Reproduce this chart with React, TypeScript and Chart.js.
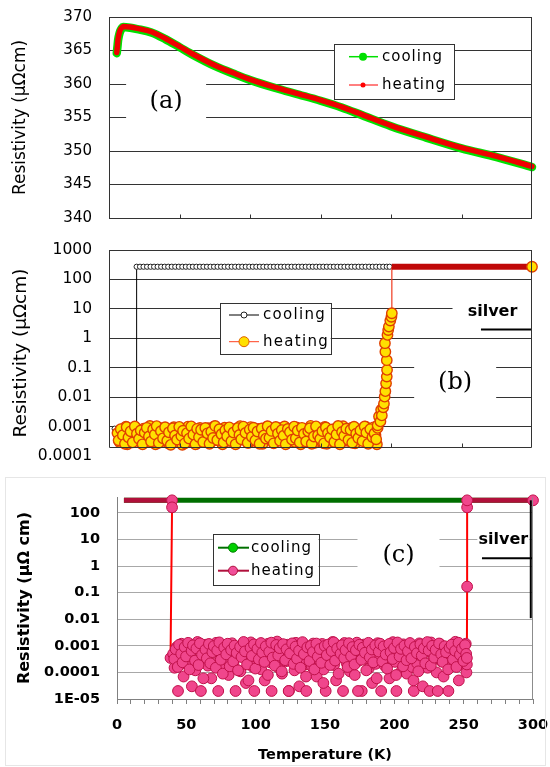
import React, { useEffect, useRef } from "react";
import { Chart, registerables } from "chart.js";

Chart.register(...registerables);

const SANS = "'DejaVu Sans', sans-serif";
const SERIF = "'DejaVu Serif', serif";

// ---------------- Panel (a) ----------------
const tempA = [5.5, 6, 6.5, 7.5, 9, 10, 15, 20, 30, 40, 50, 60, 75, 90, 100, 118, 135, 150, 165, 180, 200, 225, 250, 275, 300];
const heatingA = [364.7, 365.8, 366.8, 367.8, 368.4, 368.6, 368.5, 368.3, 367.8, 366.8, 365.6, 364.4, 362.8, 361.5, 360.7, 359.5, 358.5, 357.6, 356.6, 355.4, 353.8, 352.1, 350.5, 349.2, 347.7];
const coolingA = [364.6, 365.6, 366.6, 367.6, 368.3, 368.5, 368.4, 368.2, 367.7, 366.7, 365.5, 364.3, 362.7, 361.4, 360.6, 359.4, 358.4, 357.5, 356.5, 355.3, 353.7, 352.0, 350.4, 349.1, 347.6];
const yTicksA = [340, 345, 350, 355, 360, 365, 370];
const xInnerTicks = [50, 100, 150, 200, 250];

// ---------------- Panel (b) ----------------
const yTicksB = [0.0001, 0.001, 0.01, 0.1, 1, 10, 100, 1000];
const yLabelsB = ["0.0001", "0.001", "0.01", "0.1", "1", "10", "100", "1000"];
const axisFloorB = 0.0002;

const coolingB_lowT = [4, 7, 10, 13, 16, 19.6];
const coolingB_lowV = [8.5e-4, 9e-4, 8.5e-4, 9e-4, 8.5e-4, 9e-4];
const coolingB_highT = [
  19.6, 22, 24.5, 27, 29.5, 32, 34.5, 37, 39.5, 42,
  44.5, 47, 49.5, 52, 54.5, 57, 59.5, 62, 64.5, 67,
  69.5, 72, 74.5, 77, 79.5, 82, 84.5, 87, 89.5, 92,
  94.5, 97, 99.5, 102, 104.5, 107, 109.5, 112, 114.5, 117,
  119.5, 122, 124.5, 127, 129.5, 132, 134.5, 137, 139.5, 142,
  144.5, 147, 149.5, 152, 154.5, 157, 159.5, 162, 164.5, 167,
  169.5, 172, 174.5, 177, 179.5, 182, 184.5, 187, 189.5, 192,
  194.5, 197, 199,
];
const coolingB_highV = [
  270, 270, 270, 270, 270, 270, 270, 270, 270, 270,
  270, 270, 270, 270, 270, 270, 270, 270, 270, 270,
  270, 270, 270, 270, 270, 270, 270, 270, 270, 270,
  270, 270, 270, 270, 270, 270, 270, 270, 270, 270,
  270, 270, 270, 270, 270, 270, 270, 270, 270, 270,
  270, 270, 270, 270, 270, 270, 270, 270, 270, 270,
  270, 270, 270, 270, 270, 270, 270, 270, 270, 270,
  270, 270, 270,
];

const heatingB_cloudT = [
  6, 7.5, 9, 10.5, 12, 13, 14.5, 16, 17.5, 19,
  20.5, 22, 23, 24.5, 26, 27.5, 29, 30.5, 32, 33,
  34.5, 36, 37.5, 39, 40.5, 42, 43, 44.5, 46, 47.5,
  49, 50.5, 52, 53, 54.5, 56, 57.5, 59, 60.5, 62,
  63, 64.5, 66, 67.5, 69, 70.5, 72, 73, 74.5, 76,
  77.5, 79, 80.5, 82, 83, 84.5, 86, 87.5, 89, 90.5,
  92, 93, 94.5, 96, 97.5, 99, 100.5, 102, 103, 104.5,
  106, 107.5, 109, 110.5, 112, 113, 114.5, 116, 117.5, 119,
  120.5, 122, 123, 124.5, 126, 127.5, 129, 130.5, 132, 133,
  134.5, 136, 137.5, 139, 140.5, 142, 143, 144.5, 146, 147.5,
  149, 150.5, 152, 153, 154.5, 156, 157.5, 159, 160.5, 162,
  163, 164.5, 166, 167.5, 169, 170.5, 172, 173, 174.5, 176,
  177.5, 179, 180.5, 182, 183, 184.5, 186, 187.5, 189, 190,
];
const heatingB_cloudV = [
  6.0e-4, 3.0e-4, 8.0e-4, 4.5e-4, 10.0e-4, 2.5e-4, 7.0e-4, 5.0e-4, 3.5e-4, 9.0e-4,
  4.0e-4, 6.5e-4, 2.8e-4, 8.5e-4, 5.5e-4, 3.0e-4, 10.5e-4, 4.0e-4, 7.5e-4, 2.5e-4,
  6.0e-4, 9.0e-4, 3.5e-4, 5.0e-4, 8.0e-4, 2.7e-4, 6.5e-4, 4.0e-4, 9.5e-4, 3.0e-4,
  7.0e-4, 5.5e-4, 2.4e-4, 8.0e-4, 4.5e-4, 10.0e-4, 3.2e-4, 6.0e-4, 7.5e-4, 2.6e-4,
  5.0e-4, 9.0e-4, 3.8e-4, 6.8e-4, 4.2e-4, 8.8e-4, 2.9e-4, 5.8e-4, 10.2e-4, 3.5e-4,
  7.2e-4, 4.8e-4, 2.5e-4, 9.2e-4, 5.2e-4, 3.3e-4, 7.8e-4, 6.2e-4, 2.7e-4, 8.6e-4,
  4.4e-4, 10.4e-4, 3.6e-4, 6.6e-4, 5.4e-4, 2.8e-4, 9.6e-4, 4.1e-4, 7.1e-4, 3.1e-4,
  8.3e-4, 5.7e-4, 2.6e-4, 6.9e-4, 9.9e-4, 3.9e-4, 5.1e-4, 7.6e-4, 2.9e-4, 4.7e-4,
  8.9e-4, 3.4e-4, 6.3e-4, 10.1e-4, 2.7e-4, 5.6e-4, 7.9e-4, 4.3e-4, 3.0e-4, 9.3e-4,
  6.1e-4, 2.5e-4, 8.2e-4, 4.9e-4, 7.3e-4, 3.7e-4, 10.6e-4, 5.3e-4, 2.8e-4, 6.7e-4,
  8.7e-4, 3.2e-4, 4.6e-4, 9.7e-4, 2.6e-4, 7.4e-4, 5.9e-4, 3.5e-4, 8.4e-4, 4.1e-4,
  6.4e-4, 2.9e-4, 10.3e-4, 5.0e-4, 3.3e-4, 7.7e-4, 9.1e-4, 4.5e-4, 2.7e-4, 6.0e-4,
  8.0e-4, 3.6e-4, 5.5e-4, 10.0e-4, 4.2e-4, 7.0e-4, 3.0e-4, 9.4e-4, 5.2e-4, 2.5e-4,
  7.6e-4, 4.4e-4, 9.8e-4, 3.1e-4, 6.2e-4, 8.5e-4, 3.8e-4, 10.4e-4, 5.6e-4, 7.0e-4,
];
const heatingB_cloud2T = [
  6.8, 8.3, 9.8, 11.3, 12.5, 13.8, 15.3, 16.8, 18.3, 19.8,
  21.3, 22.5, 23.8, 25.3, 26.8, 28.3, 29.8, 31.3, 32.5, 33.8,
  35.3, 36.8, 38.3, 39.8, 41.3, 42.5, 43.8, 45.3, 46.8, 48.3,
  49.8, 51.3, 52.5, 53.8, 55.3, 56.8, 58.3, 59.8, 61.3, 62.5,
  63.8, 65.3, 66.8, 68.3, 69.8, 71.3, 72.5, 73.8, 75.3, 76.8,
  78.3, 79.8, 81.3, 82.5, 83.8, 85.3, 86.8, 88.3, 89.8, 91.3,
  92.5, 93.8, 95.3, 96.8, 98.3, 99.8, 101.3, 102.5, 103.8, 105.3,
  106.8, 108.3, 109.8, 111.3, 112.5, 113.8, 115.3, 116.8, 118.3, 119.8,
  121.3, 122.5, 123.8, 125.3, 126.8, 128.3, 129.8, 131.3, 132.5, 133.8,
  135.3, 136.8, 138.3, 139.8, 141.3, 142.5, 143.8, 145.3, 146.8, 148.3,
  149.8, 151.3, 152.5, 153.8, 155.3, 156.8, 158.3, 159.8, 161.3, 162.5,
  163.8, 165.3, 166.8, 168.3, 169.8, 171.3, 172.5, 173.8, 175.3, 176.8,
  178.3, 179.8, 181.3, 182.5, 183.8, 185.3, 186.8, 188.3, 189.5, 190.5,
];
const heatingB_cloud2V = [
  3.4e-4, 8.2e-4, 5.1e-4, 2.6e-4, 9.6e-4, 4.3e-4, 6.9e-4, 2.9e-4, 10.1e-4, 5.7e-4,
  3.8e-4, 7.4e-4, 2.5e-4, 6.2e-4, 9.1e-4, 4.6e-4, 3.1e-4, 8.0e-4, 5.4e-4, 10.4e-4,
  2.8e-4, 7.0e-4, 4.0e-4, 9.5e-4, 3.3e-4, 6.4e-4, 2.4e-4, 8.7e-4, 5.0e-4, 3.6e-4,
  9.8e-4, 4.8e-4, 7.2e-4, 2.7e-4, 6.0e-4, 3.9e-4, 10.2e-4, 5.3e-4, 2.5e-4, 8.4e-4,
  4.4e-4, 7.8e-4, 3.0e-4, 9.0e-4, 5.9e-4, 2.6e-4, 6.7e-4, 4.1e-4, 10.5e-4, 3.5e-4,
  8.1e-4, 5.5e-4, 2.9e-4, 7.5e-4, 4.7e-4, 9.4e-4, 3.2e-4, 6.3e-4, 2.5e-4, 8.9e-4,
  5.2e-4, 3.7e-4, 10.0e-4, 6.1e-4, 2.8e-4, 7.9e-4, 4.5e-4, 9.2e-4, 3.4e-4, 6.8e-4,
  2.6e-4, 8.6e-4, 5.0e-4, 3.9e-4, 10.3e-4, 4.2e-4, 7.1e-4, 2.7e-4, 9.7e-4, 5.8e-4,
  3.3e-4, 7.6e-4, 4.9e-4, 2.5e-4, 8.3e-4, 6.5e-4, 3.6e-4, 10.0e-4, 4.0e-4, 7.3e-4,
  2.9e-4, 9.1e-4, 5.6e-4, 3.1e-4, 6.9e-4, 8.8e-4, 2.6e-4, 4.6e-4, 10.2e-4, 5.1e-4,
  3.8e-4, 7.0e-4, 2.7e-4, 9.3e-4, 6.0e-4, 4.3e-4, 8.0e-4, 3.0e-4, 5.4e-4, 10.5e-4,
  2.5e-4, 6.6e-4, 4.8e-4, 8.5e-4, 3.5e-4, 7.7e-4, 2.8e-4, 9.9e-4, 5.7e-4, 4.1e-4,
  7.4e-4, 3.2e-4, 10.1e-4, 6.2e-4, 2.6e-4, 8.2e-4, 4.4e-4, 5.9e-4, 3.7e-4, 9.0e-4,
  6.7e-4, 2.9e-4, 8.9e-4, 4.7e-4, 3.4e-4, 10.0e-4, 6.1e-4, 2.7e-4, 7.5e-4, 4.0e-4,
];
const heatingB_riseT = [190.5, 191.5, 192.5, 193, 193.5, 194.5, 195, 195.5, 196, 196.5, 197, 197.2, 197, 196, 195.7, 197.5, 198, 198.5, 199.5, 200.3, 200.6];
const heatingB_riseV = [1.1e-3, 2.2e-3, 1.5e-3, 3.7e-3, 2.4e-3, 4.5e-3, 6e-3, 1.04e-2, 1.6e-2, 2.95e-2, 5e-2, 8.4e-2, 0.18, 0.35, 0.68, 1.3, 1.9, 2.5, 4, 5.4, 7.1];
const heatingB_bandT = [200.6, 210, 220, 230, 240, 250, 260, 270, 280, 290];
const heatingB_bandV = [270, 270, 270, 270, 270, 270, 270, 270, 270, 270];
const heatingB_endT = [300];
const heatingB_endV = [270];

// ---------------- Panel (c) ----------------
const yTicksC = [1e-5, 1e-4, 1e-3, 0.01, 0.1, 1, 10, 100];
const yLabelsC = ["1E-05", "0.0001", "0.001", "0.01", "0.1", "1", "10", "100"];
const xTicksC = [0, 50, 100, 150, 200, 250, 300];

const coolingC_T = [5, 50, 100, 150, 200, 250, 300];
const coolingC_V = [300, 300, 300, 300, 300, 300, 300];

const heatingC_band1T = [5, 10, 15, 20, 25, 30, 35, 38.6];
const heatingC_band1V = [300, 300, 300, 300, 300, 300, 300, 300];
const heatingC_stepInT = [39.7, 39.7, 38.6];
const heatingC_stepInV = [300, 163, 3.5e-4];
const heatingC_cloudT = [
  40.5, 41.5, 43, 44, 45.5, 46.5, 48, 49, 50.5, 51.5,
  53, 54, 55.5, 56.5, 58, 59, 60.5, 61.5, 63, 64,
  65.5, 66.5, 68, 69, 70.5, 71.5, 73, 74, 75.5, 76.5,
  78, 79, 80.5, 81.5, 83, 84, 85.5, 86.5, 88, 89,
  90.5, 91.5, 93, 94, 95.5, 96.5, 98, 99, 100.5, 101.5,
  103, 104, 105.5, 106.5, 108, 109, 110.5, 111.5, 113, 114,
  115.5, 116.5, 118, 119, 120.5, 121.5, 123, 124, 125.5, 126.5,
  128, 129, 130.5, 131.5, 133, 134, 135.5, 136.5, 138, 139,
  140.5, 141.5, 143, 144, 145.5, 146.5, 148, 149, 150.5, 151.5,
  153, 154, 155.5, 156.5, 158, 159, 160.5, 161.5, 163, 164,
  165.5, 166.5, 168, 169, 170.5, 171.5, 173, 174, 175.5, 176.5,
  178, 179, 180.5, 181.5, 183, 184, 185.5, 186.5, 188, 189,
  190.5, 191.5, 193, 194, 195.5, 196.5, 198, 199, 200.5, 201.5,
  203, 204, 205.5, 206.5, 208, 209, 210.5, 211.5, 213, 214,
  215.5, 216.5, 218, 219, 220.5, 221.5, 223, 224, 225.5, 226.5,
  228, 229, 230.5, 231.5, 233, 234, 235.5, 236.5, 238, 239,
  240.5, 241.5, 243, 244, 245.5, 246.5, 248, 249, 250.5, 251.5,
  252, 252.3,
];
const heatingC_cloudV = [
  5.0e-4, 1.5e-4, 9.0e-4, 0.2e-4, 3.0e-4, 12.0e-4, 0.7e-4, 6.0e-4, 2.0e-4, 10.0e-4,
  4.0e-4, 0.3e-4, 8.0e-4, 1.2e-4, 14.0e-4, 2.5e-4, 0.2e-4, 7.0e-4, 3.5e-4, 11.0e-4,
  1.8e-4, 5.5e-4, 0.6e-4, 9.5e-4, 2.2e-4, 13.0e-4, 0.2e-4, 4.5e-4, 7.5e-4, 1.4e-4,
  10.5e-4, 3.0e-4, 0.8e-4, 6.5e-4, 12.5e-4, 2.0e-4, 0.2e-4, 8.5e-4, 4.0e-4, 1.1e-4,
  11.5e-4, 5.0e-4, 0.4e-4, 7.0e-4, 2.8e-4, 13.5e-4, 1.6e-4, 0.2e-4, 9.0e-4, 3.8e-4,
  6.0e-4, 1.3e-4, 10.0e-4, 0.5e-4, 4.8e-4, 12.0e-4, 2.4e-4, 0.2e-4, 7.8e-4, 3.2e-4,
  14.5e-4, 1.5e-4, 5.8e-4, 0.9e-4, 9.8e-4, 2.6e-4, 11.0e-4, 0.2e-4, 4.2e-4, 8.0e-4,
  1.2e-4, 13.0e-4, 3.6e-4, 0.3e-4, 6.8e-4, 10.8e-4, 2.0e-4, 0.2e-4, 5.2e-4, 9.2e-4,
  1.7e-4, 12.2e-4, 3.4e-4, 0.7e-4, 7.2e-4, 4.6e-4, 11.8e-4, 1.3e-4, 0.2e-4, 8.8e-4,
  2.9e-4, 6.2e-4, 14.0e-4, 1.9e-4, 0.5e-4, 10.2e-4, 3.9e-4, 5.4e-4, 0.2e-4, 12.8e-4,
  2.3e-4, 7.6e-4, 1.1e-4, 9.4e-4, 4.4e-4, 0.8e-4, 13.2e-4, 2.7e-4, 6.4e-4, 0.2e-4,
  11.2e-4, 3.3e-4, 8.2e-4, 1.4e-4, 5.6e-4, 0.4e-4, 10.6e-4, 2.1e-4, 12.6e-4, 4.0e-4,
  0.2e-4, 7.4e-4, 1.8e-4, 9.6e-4, 3.1e-4, 0.6e-4, 6.6e-4, 13.8e-4, 2.5e-4, 0.2e-4,
  8.6e-4, 4.9e-4, 1.2e-4, 11.4e-4, 3.7e-4, 0.9e-4, 5.9e-4, 10.4e-4, 1.6e-4, 0.2e-4,
  7.0e-4, 2.2e-4, 12.4e-4, 4.3e-4, 0.3e-4, 9.0e-4, 6.0e-4, 1.5e-4, 0.2e-4, 13.4e-4,
  3.0e-4, 8.4e-4, 1.0e-4, 5.0e-4, 11.6e-4, 2.6e-4, 0.7e-4, 7.8e-4, 4.1e-4, 0.2e-4,
  10.0e-4, 1.9e-4, 6.9e-4, 14.2e-4, 3.5e-4, 0.5e-4, 9.2e-4, 2.0e-4, 5.3e-4, 12.0e-4,
  1.0e-4, 2.0e-4,
];
const heatingC_cloud2T = [
  41.3, 42.3, 43.8, 44.8, 46.3, 47.3, 48.8, 49.8, 51.3, 52.3,
  53.8, 54.8, 56.3, 57.3, 58.8, 59.8, 61.3, 62.3, 63.8, 64.8,
  66.3, 67.3, 68.8, 69.8, 71.3, 72.3, 73.8, 74.8, 76.3, 77.3,
  78.8, 79.8, 81.3, 82.3, 83.8, 84.8, 86.3, 87.3, 88.8, 89.8,
  91.3, 92.3, 93.8, 94.8, 96.3, 97.3, 98.8, 99.8, 101.3, 102.3,
  103.8, 104.8, 106.3, 107.3, 108.8, 109.8, 111.3, 112.3, 113.8, 114.8,
  116.3, 117.3, 118.8, 119.8, 121.3, 122.3, 123.8, 124.8, 126.3, 127.3,
  128.8, 129.8, 131.3, 132.3, 133.8, 134.8, 136.3, 137.3, 138.8, 139.8,
  141.3, 142.3, 143.8, 144.8, 146.3, 147.3, 148.8, 149.8, 151.3, 152.3,
  153.8, 154.8, 156.3, 157.3, 158.8, 159.8, 161.3, 162.3, 163.8, 164.8,
  166.3, 167.3, 168.8, 169.8, 171.3, 172.3, 173.8, 174.8, 176.3, 177.3,
  178.8, 179.8, 181.3, 182.3, 183.8, 184.8, 186.3, 187.3, 188.8, 189.8,
  191.3, 192.3, 193.8, 194.8, 196.3, 197.3, 198.8, 199.8, 201.3, 202.3,
  203.8, 204.8, 206.3, 207.3, 208.8, 209.8, 211.3, 212.3, 213.8, 214.8,
  216.3, 217.3, 218.8, 219.8, 221.3, 222.3, 223.8, 224.8, 226.3, 227.3,
  228.8, 229.8, 231.3, 232.3, 233.8, 234.8, 236.3, 237.3, 238.8, 239.8,
  241.3, 242.3, 243.8, 244.8, 246.3, 247.3, 248.8, 249.8, 251, 251.8,
];
const heatingC_cloud2V = [
  3.2e-4, 7.5e-4, 1.6e-4, 11.0e-4, 5.0e-4, 2.4e-4, 9.0e-4, 4.0e-4, 13.0e-4, 1.3e-4,
  6.5e-4, 10.5e-4, 2.8e-4, 8.0e-4, 1.9e-4, 12.5e-4, 4.6e-4, 0.6e-4, 7.2e-4, 3.4e-4,
  11.8e-4, 2.2e-4, 5.8e-4, 9.8e-4, 1.5e-4, 6.8e-4, 13.5e-4, 3.0e-4, 0.9e-4, 8.6e-4,
  4.8e-4, 12.0e-4, 1.7e-4, 7.0e-4, 2.6e-4, 10.2e-4, 5.4e-4, 1.2e-4, 9.2e-4, 3.8e-4,
  14.0e-4, 6.2e-4, 2.0e-4, 0.5e-4, 8.4e-4, 4.2e-4, 11.4e-4, 1.4e-4, 7.8e-4, 3.1e-4,
  12.8e-4, 5.6e-4, 2.5e-4, 9.6e-4, 0.8e-4, 6.0e-4, 13.2e-4, 3.6e-4, 1.8e-4, 10.8e-4,
  4.4e-4, 8.2e-4, 1.1e-4, 11.6e-4, 2.9e-4, 7.4e-4, 0.2e-4, 5.2e-4, 12.4e-4, 2.1e-4,
  9.4e-4, 3.3e-4, 6.6e-4, 1.5e-4, 13.8e-4, 4.9e-4, 0.7e-4, 8.8e-4, 2.7e-4, 10.0e-4,
  5.9e-4, 1.3e-4, 12.2e-4, 3.9e-4, 7.6e-4, 2.3e-4, 0.4e-4, 9.9e-4, 4.5e-4, 11.2e-4,
  1.9e-4, 6.4e-4, 13.6e-4, 2.8e-4, 8.0e-4, 0.9e-4, 5.1e-4, 10.6e-4, 3.5e-4, 7.0e-4,
  1.6e-4, 12.6e-4, 4.1e-4, 9.0e-4, 2.0e-4, 6.9e-4, 0.2e-4, 11.0e-4, 3.0e-4, 8.6e-4,
  5.5e-4, 1.2e-4, 13.0e-4, 3.7e-4, 7.3e-4, 2.4e-4, 10.4e-4, 0.6e-4, 6.1e-4, 12.0e-4,
  2.6e-4, 9.5e-4, 4.7e-4, 1.4e-4, 11.8e-4, 5.8e-4, 3.2e-4, 8.3e-4, 0.8e-4, 13.4e-4,
  4.0e-4, 7.7e-4, 1.7e-4, 10.2e-4, 2.9e-4, 6.3e-4, 12.8e-4, 3.4e-4, 0.5e-4, 9.1e-4,
  5.3e-4, 1.1e-4, 11.5e-4, 4.3e-4, 8.1e-4, 2.2e-4, 13.9e-4, 6.7e-4, 1.8e-4, 10.0e-4,
  3.6e-4, 7.1e-4, 0.2e-4, 12.3e-4, 4.8e-4, 2.5e-4, 9.7e-4, 5.7e-4, 1.3e-4, 8.5e-4,
  11.1e-4, 3.1e-4, 6.5e-4, 1.6e-4, 13.1e-4, 4.6e-4, 7.9e-4, 2.7e-4, 10.7e-4, 5.0e-4,
];
const heatingC_stepOutT = [252.3, 252.5, 252.5, 252.5];
const heatingC_stepOutV = [3.5e-4, 0.17, 163, 300];
const heatingC_band2T = [252.5, 260, 270, 280, 290];
const heatingC_band2V = [300, 300, 300, 300, 300];
const heatingC_endT = [300];
const heatingC_endV = [300];

// ---------------- helpers ----------------
type P = { x: number; y: number; s: string; m: boolean };
const mk = (ts: number[], vs: number[], s: string, m: boolean): P[] =>
  ts.map((t, i) => ({ x: t, y: vs[i], s, m })).filter((p) => p.y !== undefined);

const segStyle = (data: P[], st: any) => {
  const pick = (c: any) => {
    const a = data[c.p0DataIndex];
    const b = data[c.p1DataIndex];
    if (a && b && a.s === "band" && b.s === "band") return st.band;
    if (a && b && a.s === "cloud" && b.s === "cloud") return st.cloud;
    return st.other;
  };
  return {
    borderColor: (c: any) => pick(c)[0],
    borderWidth: (c: any) => pick(c)[1],
  };
};

const labelFor = (ticks: number[], labels: string[]) => (v: any) => {
  const i = ticks.findIndex((t) => Math.abs(Math.log10(t) - Math.log10(Number(v))) < 1e-6);
  return i >= 0 ? labels[i] : "";
};

// keep tick-label half heights and tick padding from shrinking the plot area
const noEdgePadding = (s: any) => {
  s.paddingTop = 0;
  s.paddingBottom = 0;
  s.paddingLeft = 0;
  s.paddingRight = 0;
};

function decorPlugin(o: any) {
  return {
    id: "decor",
    beforeDatasetsDraw(chart: any) {
      const { ctx } = chart;
      const xs = chart.scales.x;
      const ys = chart.scales.y;
      ctx.save();
      for (const t of o.texts) {
        if (!t.bw) continue;
        const cx = xs.getPixelForValue(t.x);
        const cy = ys.getPixelForValue(t.by !== undefined ? t.by : t.y);
        ctx.fillStyle = "#ffffff";
        ctx.fillRect(cx - t.bw / 2, cy - t.bh / 2, t.bw, t.bh);
      }
      for (const t of o.texts) {
        const cx = xs.getPixelForValue(t.x);
        const cy = ys.getPixelForValue(t.y);
        ctx.font = t.font;
        ctx.fillStyle = "#000";
        ctx.textAlign = "center";
        ctx.textBaseline = "middle";
        ctx.fillText(t.text, cx, cy);
      }
      ctx.restore();
    },
    afterDatasetsDraw(chart: any) {
      const { ctx, chartArea } = chart;
      const xs = chart.scales.x;
      const ys = chart.scales.y;
      ctx.save();
      for (const l of o.lines || []) {
        ctx.strokeStyle = l.color;
        ctx.lineWidth = l.w;
        ctx.beginPath();
        ctx.moveTo(xs.getPixelForValue(l.x1), ys.getPixelForValue(l.y1));
        ctx.lineTo(xs.getPixelForValue(l.x2), ys.getPixelForValue(l.y2));
        ctx.stroke();
      }
      const f = o.frame;
      if (f) {
        const floor = f.floor !== undefined ? Math.round(ys.getPixelForValue(f.floor)) + 0.5 : Math.round(chartArea.bottom) + 0.5;
        const L = Math.round(chartArea.left) + 0.5;
        const R = Math.round(chartArea.right) - 0.5;
        const T = Math.round(chartArea.top) + 0.5;
        ctx.strokeStyle = f.color;
        ctx.lineWidth = 1;
        ctx.beginPath();
        if (f.left) { ctx.moveTo(L, T); ctx.lineTo(L, floor); }
        if (f.bottom) { ctx.moveTo(L, floor); ctx.lineTo(R, floor); }
        if (f.right) { ctx.moveTo(R, T); ctx.lineTo(R, floor); }
        ctx.stroke();
        if (f.ticks) {
          ctx.beginPath();
          for (const t of f.ticks) {
            const x = Math.round(xs.getPixelForValue(t)) + 0.5;
            ctx.moveTo(x, floor);
            ctx.lineTo(x, floor - 4);
          }
          ctx.stroke();
        }
      }
      ctx.restore();
    },
    afterDraw(chart: any) {
      const { ctx } = chart;
      ctx.save();
      if (o.outer) {
        ctx.strokeStyle = o.outer.color;
        ctx.lineWidth = 1;
        ctx.strokeRect(o.outer.x + 0.5, o.outer.y + 0.5, o.outer.w, o.outer.h);
      }
      const L = o.legend;
      if (L) {
        ctx.fillStyle = "#fff";
        ctx.fillRect(L.l, L.t, L.r - L.l, L.b - L.t);
        ctx.strokeStyle = L.border;
        ctx.lineWidth = 1;
        ctx.strokeRect(Math.round(L.l) + 0.5, Math.round(L.t) + 0.5, Math.round(L.r - L.l), Math.round(L.b - L.t));
        L.entries.forEach((e: any, i: number) => {
          const y = L.rows[i];
          ctx.strokeStyle = e.line;
          ctx.lineWidth = e.lw;
          ctx.beginPath();
          ctx.moveTo(L.x1, y);
          ctx.lineTo(L.x2, y);
          ctx.stroke();
          ctx.beginPath();
          ctx.arc(L.mx, y, e.r, 0, Math.PI * 2);
          ctx.fillStyle = e.fill;
          ctx.fill();
          if (e.stroke) {
            ctx.strokeStyle = e.stroke;
            ctx.lineWidth = 1;
            ctx.stroke();
          }
          ctx.font = L.font;
          (ctx as any).letterSpacing = L.ls;
          ctx.fillStyle = "#000";
          ctx.textAlign = "left";
          ctx.textBaseline = "middle";
          ctx.fillText(chart.data.datasets[e.ds].label, L.tx, y);
          (ctx as any).letterSpacing = "0px";
        });
      }
      ctx.restore();
    },
  };
}

// ---------------- configs ----------------
function configA(): any {
  return {
    type: "scatter",
    data: {
      datasets: [
        {
          label: "heating",
          data: tempA.map((t, i) => ({ x: t, y: heatingA[i] })),
          showLine: true,
          borderColor: "#F00000",
          borderWidth: 5.5,
          pointRadius: 0,
          cubicInterpolationMode: "monotone",
          borderCapStyle: "round",
          clip: 8,
        },
        {
          label: "cooling",
          data: tempA.map((t, i) => ({ x: t, y: coolingA[i] })),
          showLine: true,
          borderColor: "#00E000",
          borderWidth: 8.5,
          pointRadius: 0,
          cubicInterpolationMode: "monotone",
          borderCapStyle: "round",
          clip: 8,
        },
      ],
    },
    options: {
      responsive: false,
      animation: false,
      devicePixelRatio: 1,
      events: [],
      layout: { padding: { left: 0, top: 17, right: 18, bottom: 14 } },
      plugins: { legend: { display: false }, tooltip: { enabled: false } },
      scales: {
        x: { type: "linear", min: 0, max: 300, display: false },
        y: {
          type: "linear",
          min: 340,
          max: 370,
          afterBuildTicks: (s: any) => { s.ticks = yTicksA.map((v) => ({ value: v })); },
          afterFit: (s: any) => { s.width = 109; noEdgePadding(s); },
          grid: { color: "#333", drawTicks: false },
          border: { display: true, color: "#333" },
          ticks: { font: { family: SANS, size: 15 }, color: "#000", padding: 17 },
          title: {
            display: true,
            text: "Resistivity (µΩcm)",
            font: { family: SANS, size: 17 },
            color: "#000",
            padding: { top: 10, bottom: 0 },
          },
        },
      },
    },
    plugins: [
      decorPlugin({
        texts: [{ text: "(a)", x: 40.5, y: 357.4, font: `24px ${SERIF}`, bw: 80, bh: 44 }],
        frame: { color: "#333", right: true, ticks: xInnerTicks },
        legend: {
          l: 334, t: 43.5, r: 454, b: 98.5, rows: [56.7, 85], x1: 349, x2: 378, mx: 363, tx: 382,
          font: `15px ${SANS}`, ls: "1px", border: "#333",
          entries: [
            { ds: 1, line: "#00E000", lw: 1.5, fill: "#00E000", stroke: null, r: 4 },
            { ds: 0, line: "#FF0000", lw: 1, fill: "#FF0000", stroke: null, r: 2.5 },
          ],
        },
      }),
    ],
  };
}

function configB(): any {
  const heatData: P[] = [
    ...mk(heatingB_cloudT, heatingB_cloudV, "cloud", true),
    ...mk(heatingB_cloud2T, heatingB_cloud2V, "cloud", true),
    ...mk(heatingB_riseT, heatingB_riseV, "step", true),
    ...mk(heatingB_bandT, heatingB_bandV, "band", false),
    ...mk(heatingB_endT, heatingB_endV, "band", true),
  ];
  const coolData: P[] = [
    ...mk(coolingB_lowT, coolingB_lowV, "low", true),
    ...mk(coolingB_highT, coolingB_highV, "high", true),
  ];
  return {
    type: "scatter",
    data: {
      datasets: [
        {
          label: "heating",
          data: heatData,
          showLine: true,
          borderColor: "#F04020",
          borderWidth: 1,
          segment: segStyle(heatData, { band: ["#C00808", 6], cloud: ["rgba(0,0,0,0)", 0], other: ["#F03C20", 1.2] }),
          pointRadius: (c: any) => (c.raw && c.raw.m ? 5.2 : 0),
          pointBackgroundColor: "#FFE000",
          pointBorderColor: "#E04000",
          pointBorderWidth: 1.4,
          clip: 10,
        },
        {
          label: "cooling",
          data: coolData,
          showLine: true,
          borderColor: "#000",
          borderWidth: 1,
          pointRadius: 2.6,
          pointBackgroundColor: "#fff",
          pointBorderColor: "#222",
          pointBorderWidth: 1,
          clip: 10,
        },
      ],
    },
    options: {
      responsive: false,
      animation: false,
      devicePixelRatio: 1,
      events: [],
      layout: { padding: { left: 0, top: 18, right: 18, bottom: 16 } },
      plugins: { legend: { display: false }, tooltip: { enabled: false } },
      scales: {
        x: { type: "linear", min: 0, max: 300, display: false },
        y: {
          type: "logarithmic",
          min: 0.0001,
          max: 1000,
          afterBuildTicks: (s: any) => { s.ticks = yTicksB.map((v) => ({ value: v })); },
          afterFit: (s: any) => { s.width = 109; noEdgePadding(s); },
          grid: {
            color: (c: any) => (c.tick && c.tick.value < axisFloorB ? "rgba(0,0,0,0)" : "#333"),
            drawTicks: false,
          },
          border: { display: false },
          ticks: { font: { family: SANS, size: 15.5 }, color: "#000", padding: 17, callback: labelFor(yTicksB, yLabelsB) },
          title: {
            display: true,
            text: "Resistivity (µΩcm)",
            font: { family: SANS, size: 18.5 },
            color: "#000",
            padding: { top: 10.4, bottom: 0 },
          },
        },
      },
    },
    plugins: [
      decorPlugin({
        texts: [
          { text: "(b)", x: 245.5, y: 0.03, font: `24px ${SERIF}`, bw: 82, bh: 44 },
          { text: "silver", x: 272, y: 8, font: `bold 16px ${SANS}`, bw: 80, bh: 24 },
        ],
        lines: [{ x1: 263.8, y1: 2, x2: 300, y2: 2, color: "#000", w: 2 }],
        frame: { color: "#333", left: true, right: true, bottom: true, floor: axisFloorB, ticks: xInnerTicks },
        legend: {
          l: 220, t: 70.7, r: 330.7, b: 121.3, rows: [83, 109.7], x1: 229, x2: 259, mx: 244, tx: 263,
          font: `15px ${SANS}`, ls: "1.3px", border: "#333",
          entries: [
            { ds: 1, line: "#000", lw: 1, fill: "#fff", stroke: "#222", r: 3 },
            { ds: 0, line: "#FF4020", lw: 1, fill: "#FFE000", stroke: "#E06000", r: 5 },
          ],
        },
      }),
    ],
  };
}

function configC(): any {
  const heatData: P[] = [
    ...mk(heatingC_band1T, heatingC_band1V, "band", false),
    ...mk(heatingC_stepInT, heatingC_stepInV, "step", true),
    ...mk(heatingC_cloudT, heatingC_cloudV, "cloud", true),
    ...mk(heatingC_cloud2T, heatingC_cloud2V, "cloud", true),
    ...mk(heatingC_stepOutT, heatingC_stepOutV, "step", true),
    ...mk(heatingC_band2T, heatingC_band2V, "band", false),
    ...mk(heatingC_endT, heatingC_endV, "band", true),
  ];
  return {
    type: "scatter",
    data: {
      datasets: [
        {
          label: "heating",
          data: heatData,
          showLine: true,
          borderColor: "#FF0000",
          borderWidth: 2,
          segment: segStyle(heatData, { band: ["#B0103A", 5], cloud: ["rgba(0,0,0,0)", 0], other: ["#FF0000", 2] }),
          pointRadius: (c: any) => (c.raw && c.raw.m ? 5.4 : 0),
          pointBackgroundColor: "#F0468C",
          pointBorderColor: "#C0104A",
          pointBorderWidth: 1,
          clip: 10,
        },
        {
          label: "cooling",
          data: coolingC_T.map((t, i) => ({ x: t, y: coolingC_V[i] })),
          showLine: true,
          borderColor: "#006E00",
          borderWidth: 5,
          pointRadius: 0,
          clip: 10,
        },
      ],
    },
    options: {
      responsive: false,
      animation: false,
      devicePixelRatio: 1,
      events: [],
      layout: { padding: { left: 0, top: 33, right: 17, bottom: 0 } },
      plugins: { legend: { display: false }, tooltip: { enabled: false } },
      scales: {
        x: {
          type: "linear",
          min: 0,
          max: 300,
          afterFit: (s: any) => { s.height = 68; noEdgePadding(s); },
          grid: { drawOnChartArea: false, drawTicks: true, tickLength: 5, color: "#808080" },
          border: { display: true, color: "#808080" },
          ticks: {
            stepSize: 10,
            autoSkip: false,
            maxRotation: 0,
            padding: 12.3,
            font: { family: SANS, size: 14.5, weight: "bold" },
            color: "#000",
            callback: (v: any) => (xTicksC.includes(Number(v)) ? String(v) : ""),
          },
          title: {
            display: true,
            text: "Temperature (K)",
            font: { family: SANS, size: 14.5, weight: "bold" },
            color: "#000",
            padding: { top: 0, bottom: 2.6 },
          },
        },
        y: {
          type: "logarithmic",
          min: 1e-5,
          max: 400,
          afterBuildTicks: (s: any) => { s.ticks = yTicksC.map((v) => ({ value: v })); },
          afterFit: (s: any) => { s.width = 117; noEdgePadding(s); },
          grid: { color: "#A8A8A8", drawTicks: false },
          border: { display: true, color: "#808080" },
          ticks: { font: { family: SANS, size: 14.5, weight: "bold" }, color: "#000", padding: 17, callback: labelFor(yTicksC, yLabelsC) },
          title: {
            display: true,
            text: "Resistivity (µΩ cm)",
            font: { family: SANS, size: 16, weight: "bold" },
            color: "#000",
            padding: { top: 15.4, bottom: 0 },
          },
        },
      },
    },
    plugins: [
      decorPlugin({
        texts: [
          { text: "(c)", x: 203, y: 2.4, by: 3, font: `24px ${SERIF}`, bw: 82, bh: 52 },
          { text: "silver", x: 278.6, y: 10, font: `bold 16px ${SANS}`, bw: 52, bh: 20 },
        ],
        lines: [
          { x1: 263.2, y1: 2, x2: 300, y2: 2, color: "#000", w: 2 },
          { x1: 298.4, y1: 300, x2: 298.4, y2: 0.011, color: "#000", w: 2 },
        ],
        frame: { color: "#8C8C8C", right: true },
        outer: { x: 5, y: 13, w: 540, h: 288, color: "#E6E6E6" },
        legend: {
          l: 212.7, t: 70.3, r: 318.3, b: 121, rows: [83.7, 106.7], x1: 218, x2: 249, mx: 233, tx: 251,
          font: `15px ${SANS}`, ls: "1px", border: "#333",
          entries: [
            { ds: 1, line: "#007000", lw: 2, fill: "#00D000", stroke: "#008000", r: 4.5 },
            { ds: 0, line: "#B0103C", lw: 2, fill: "#F0509A", stroke: "#B0103C", r: 4.5 },
          ],
        },
      }),
    ],
  };
}

export default function App() {
  const refA = useRef<HTMLCanvasElement>(null);
  const refB = useRef<HTMLCanvasElement>(null);
  const refC = useRef<HTMLCanvasElement>(null);

  useEffect(() => {
    const charts = [
      new Chart(refA.current as HTMLCanvasElement, configA()),
      new Chart(refB.current as HTMLCanvasElement, configB()),
      new Chart(refC.current as HTMLCanvasElement, configC()),
    ];
    return () => charts.forEach((c) => c.destroy());
  }, []);

  return (
    <div style={{ position: "fixed", left: 0, top: 0, width: 550, height: 767, background: "#fff", overflow: "hidden" }}>
      <canvas ref={refA} width={550} height={232} style={{ position: "absolute", left: 0, top: 0, width: 550, height: 232 }} />
      <canvas ref={refB} width={550} height={240} style={{ position: "absolute", left: 0, top: 232, width: 550, height: 240 }} />
      <canvas ref={refC} width={550} height={303} style={{ position: "absolute", left: 0, top: 464, width: 550, height: 303 }} />
    </div>
  );
}
